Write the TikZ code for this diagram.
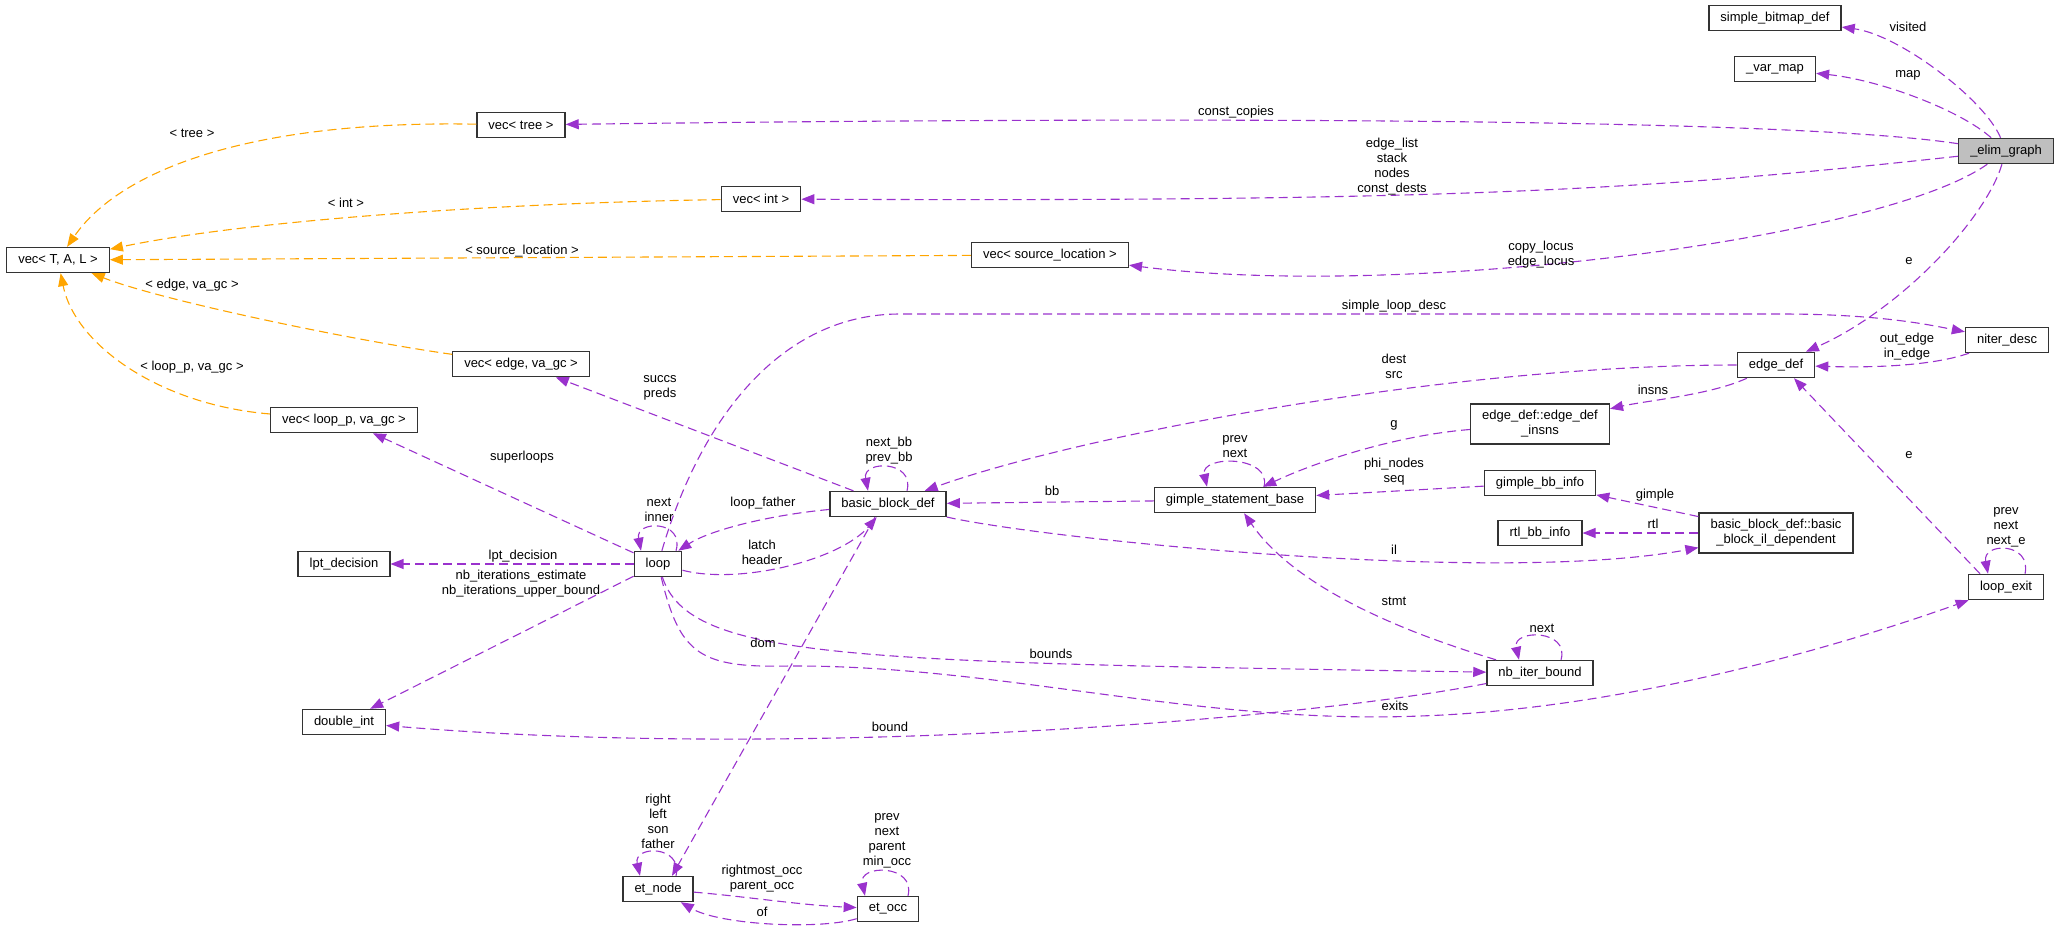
\documentclass[tikz,border=0pt]{standalone}
\usepackage{fontspec}
\setmainfont{Liberation Sans}
\usetikzlibrary{arrows.meta}
\definecolor{usecol}{HTML}{9A32CD}
\definecolor{tplcol}{HTML}{FFA500}

\begin{document}
\begin{tikzpicture}[x=1pt, y=-1pt, font=\fontsize{13}{15}\selectfont,
    cls/.style={draw=black!80, line width=1.4pt, fill=white, minimum height=25pt,
      inner xsep=11.5pt, inner ysep=6.5pt, align=center},
    usage/.style={color=usecol, line width=1.1pt, dash pattern=on 9pt off 5pt,
      -{Triangle[length=13pt,width=10pt]}},
    inst/.style={usage, color=tplcol},
    lbl/.style={inner sep=0pt, align=center, text=black}]
\useasboundingbox (0,0) rectangle (2059,933);

% classes
\node [cls, fill=black!25] (eg) at (2006,151) {\_elim\_graph};
\node [cls] (sbd) at (1775,18) {simple\_bitmap\_def};
\node [cls] (vmap) at (1775,69) {\_var\_map};
\node [cls] (vtree) at (521,125) {vec< tree >};
\node [cls] (vint) at (761,199) {vec< int >};
\node [cls] (vsl) at (1050,255) {vec< source\_location >};
\node [cls] (vtal) at (58,260) {vec< T, A, L >};
\node [cls] (vedge) at (521,364) {vec< edge, va\_gc >};
\node [cls] (vloop) at (344,420) {vec< loop\_p, va\_gc >};
\node [cls] (lpt) at (344,564) {lpt\_decision};
\node [cls] (loop) at (658,564) {loop};
\node [cls] (dint) at (344,722) {double\_int};
\node [cls] (bbd) at (888,504) {basic\_block\_def};
\node [cls] (gsb) at (1235,500) {gimple\_statement\_base};
\node [cls] (edi) at (1540,424) {edge\_def::edge\_def\\\_insns};
\node [cls] (gbi) at (1540,483) {gimple\_bb\_info};
\node [cls] (rtl) at (1540,533) {rtl\_bb\_info};
\node [cls] (nib) at (1540,673) {nb\_iter\_bound};
\node [cls] (ed) at (1776,365) {edge\_def};
\node [cls] (bbil) at (1776,533) {basic\_block\_def::basic\\\_block\_il\_dependent};
\node [cls] (nd) at (2007,340) {niter\_desc};
\node [cls] (lex) at (2006,587) {loop\_exit};
\node [cls] (etn) at (658,889) {et\_node};
\node [cls] (eto) at (888,909) {et\_occ};

% members of _elim_graph
\draw [usage] (eg) .. controls (1985,100) and (1900,35) .. (sbd)
  node [lbl] (t1) at (1908,27) {visited};
\draw [usage] (eg) .. controls (1960,110) and (1880,80) .. (vmap)
  node [lbl] (t2) at (1908,75) {map};
\draw [usage] (eg) .. controls (1750,112) and (900,120) .. (vtree)
  node [lbl] (t3) at (1236,112) {const\_copies};
\draw [usage] (eg) .. controls (1650,190) and (1450,202) .. (vint)
  node [lbl] (t4) at (1392,167) {edge\_list\\stack\\nodes\\const\_dests};
\draw [usage] (eg) .. controls (1880,240) and (1400,300) .. (vsl)
  node [lbl] (t5) at (1541,255) {copy\_locus\\edge\_locus};
\draw [usage] (eg) .. controls (1985,220) and (1900,310) .. (ed)
  node [lbl] (t6) at (1909,261) {e};

% template instances
\draw [inst] (vtree) .. controls (250,120) and (120,170) .. (vtal)
  node [lbl] (t7) at (192,133) {< tree >};
\draw [inst] (vint) .. controls (500,203) and (250,220) .. (vtal)
  node [lbl] (t8) at (346,203) {< int >};
\draw [inst] (vsl) -- (vtal)
  node [lbl] (t9) at (522,251) {< source\_location >};
\draw [inst] (vedge) .. controls (350,340) and (160,300) .. (vtal)
  node [lbl] (t10) at (192,285) {< edge, va\_gc >};
\draw [inst] (vloop) .. controls (160,405) and (75,345) .. (vtal)
  node [lbl] (t11) at (192,367) {< loop\_p, va\_gc >};

% loop and blocks
\draw [usage] (loop) .. controls (700,420) and (780,314) .. (900,314) -- (1780,314)
  .. controls (1880,314) and (1930,325) .. (nd)
  node [lbl] (t12) at (1394,306) {simple\_loop\_desc};
\draw [usage] (nd) .. controls (1935,365) and (1880,368) .. (ed)
  node [lbl] (t13) at (1907,347) {out\_edge\\in\_edge};
\draw [usage] (ed) .. controls (1450,365) and (1080,435) .. (bbd)
  node [lbl] (t14) at (1394,366) {dest\\src};
\draw [usage] (ed) .. controls (1710,395) and (1650,400) .. (edi)
  node [lbl] (t15) at (1653,390) {insns};
\draw [usage] (bbd) -- (vedge)
  node [lbl] (t16) at (660,388) {succs\\preds};
\draw [usage] ([xshift=19]bbd.north) .. controls (915,460) and (862,460) .. ([xshift=-20]bbd.north)
  node [lbl] (t17) at (889,451) {next\_bb\\prev\_bb};
\draw [usage] (bbd) .. controls (770,515) and (710,530) .. (loop)
  node [lbl] (t18) at (763,503) {loop\_father};
\draw [usage] (loop) .. controls (740,585) and (840,560) .. (bbd)
  node [lbl] (t19) at (762,552) {latch\\header};
\draw [usage] ([xshift=18]loop.north) .. controls (685,520) and (635,520) .. ([xshift=-17]loop.north)
  node [lbl] (t20) at (659,510) {next\\inner};
\draw [usage] (loop) -- (vloop)
  node [lbl] (t21) at (522,457) {superloops};
\draw [usage] (loop) -- (lpt)
  node [lbl] (t22) at (523,556) {lpt\_decision};
\draw [usage] (loop) -- (dint)
  node [lbl] (t23) at (521,584) {nb\_iterations\_estimate\\nb\_iterations\_upper\_bound};
\draw [usage] (loop) .. controls (690,660) and (850,662) .. (nib)
  node [lbl] (t24) at (1051,654) {bounds};
\draw [usage] (loop) .. controls (680,655) and (700,668) .. (790,666)
  .. controls (1000,665) and (1200,725) .. (1420,716)
  .. controls (1600,710) and (1800,660) .. (lex)
  node [lbl] (t25) at (1395,706) {exits};
\draw [usage] ([xshift=-13]bbd.south) -- ([xshift=14]etn.north)
  node [lbl] (t26) at (763,643) {dom};

% et tree
\draw [usage] ([xshift=18]etn.north) .. controls (683,845) and (633,845) .. ([xshift=-18]etn.north)
  node [lbl] (t27) at (658,821) {right\\left\\son\\father};
\draw [usage] (etn) .. controls (750,897) and (800,905) .. (eto)
  node [lbl] (t28) at (762,879) {rightmost\_occ\\parent\_occ};
\draw [usage] (eto) .. controls (820,930) and (720,925) .. (etn)
  node [lbl] (t29) at (762,912) {of};
\draw [usage] ([xshift=20]eto.north) .. controls (916,864) and (858,864) .. ([xshift=-23]eto.north)
  node [lbl] (t30) at (887,841) {prev\\next\\parent\\min\_occ};

% gimple side
\draw [usage] (gsb) -- (bbd)
  node [lbl] (t31) at (1052,491) {bb};
\draw [usage] ([xshift=29]gsb.north) .. controls (1272,455) and (1200,455) .. ([xshift=-28]gsb.north)
  node [lbl] (t32) at (1235,447) {prev\\next};
\draw [usage] (edi) .. controls (1400,435) and (1320,460) .. (gsb)
  node [lbl] (t33) at (1394,425) {g};
\draw [usage] (gbi) -- (gsb)
  node [lbl] (t34) at (1394,472) {phi\_nodes\\seq};
\draw [usage] (bbil) -- (gbi)
  node [lbl] (t35) at (1655,495) {gimple};
\draw [usage] (bbil) -- (rtl)
  node [lbl] (t36) at (1653,524) {rtl};
\draw [usage] (bbd) .. controls (1050,540) and (1500,585) .. (bbil)
  node [lbl] (t37) at (1394,550) {il};
\draw [usage] (nib) .. controls (1380,625) and (1290,580) .. (gsb)
  node [lbl] (t38) at (1394,601) {stmt};
\draw [usage] ([xshift=21]nib.north) .. controls (1570,629) and (1512,629) .. ([xshift=-21]nib.north)
  node [lbl] (t39) at (1542,628) {next};
\draw [usage] (nib) .. controls (1300,720) and (800,760) .. (dint)
  node [lbl] (t40) at (890,727) {bound};

% loop_exit
\draw [usage] ([xshift=-26]lex.north) -- ([xshift=18]ed.south)
  node [lbl] (t41) at (1909,455) {e};
\draw [usage] ([xshift=19]lex.north) .. controls (2032,542) and (1982,542) .. ([xshift=-18]lex.north)
  node [lbl] (t42) at (2006,527) {prev\\next\\next\_e};
\end{tikzpicture}
\end{document}
